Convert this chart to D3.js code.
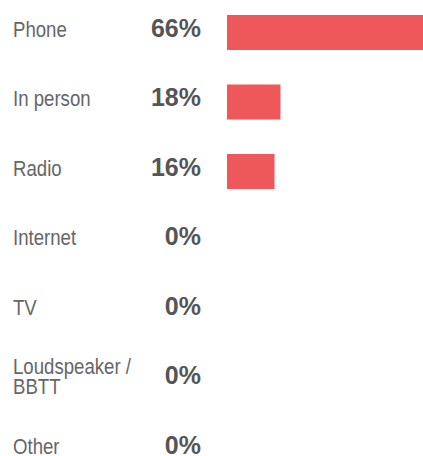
<!DOCTYPE html>
<html>
<head>
<meta charset="utf-8">
<script src="https://cdn.jsdelivr.net/npm/d3@7"></script>
<style>
  html, body { margin: 0; padding: 0; background: #fff; }
  svg { display: block; }
</style>
</head>
<body>
<div id="chart"></div>
<script>
const categories = ["Phone", "In person", "Radio", "Internet", "TV", "Loudspeaker / BBTT", "Other"];
const labelLines = [["Phone"], ["In person"], ["Radio"], ["Internet"], ["TV"], ["Loudspeaker /", "BBTT"], ["Other"]];
const values = [66, 18, 16, 0, 0, 0, 0];
const valueLabels = ["66%", "18%", "16%", "0%", "0%", "0%", "0%"];

const W = 423, H = 456;
const svg = d3.select("#chart").append("svg").attr("width", W).attr("height", H);

const y = d3.scaleBand()
  .domain(categories)
  .range([15 - 17.25, 15 - 17.25 + 69.5 * 7])
  .paddingInner(0.496)
  .paddingOuter(0.248);
const x = d3.scaleLinear().domain([0, d3.max(values)]).range([227, 423]);

const rows = svg.selectAll("g.row").data(categories).join("g").attr("class", "row");

rows.append("rect")
  .attr("x", x(0))
  .attr("y", d => y(d))
  .attr("width", (d, i) => x(values[i]) - x(0))
  .attr("height", y.bandwidth())
  .attr("fill", "#EF585A");

const base = d => y(d) + y.bandwidth() / 2 + 4;

rows.append("g")
  .attr("transform", d => `translate(13,${base(d)}) scale(0.81,1)`)
  .append("text")
  .attr("fill", "#666")
  .style("font-family", "'Liberation Sans', Arial, sans-serif")
  .style("font-size", "23px")
  .each(function (d, i) {
    const lines = labelLines[i];
    const t = d3.select(this);
    const n = lines.length;
    lines.forEach((ln, j) => {
      t.append("tspan")
        .attr("x", 0)
        .attr("dy", j === 0 ? -(n - 1) * 10 : 20)
        .text(ln);
    });
  });

rows.append("text")
  .attr("x", 201)
  .attr("y", d => base(d))
  .attr("text-anchor", "end")
  .attr("fill", "#555")
  .style("font-family", "'Liberation Sans', Arial, sans-serif")
  .style("font-weight", "bold")
  .style("font-size", "25px")
  .text((d, i) => valueLabels[i]);
</script>
</body>
</html>
